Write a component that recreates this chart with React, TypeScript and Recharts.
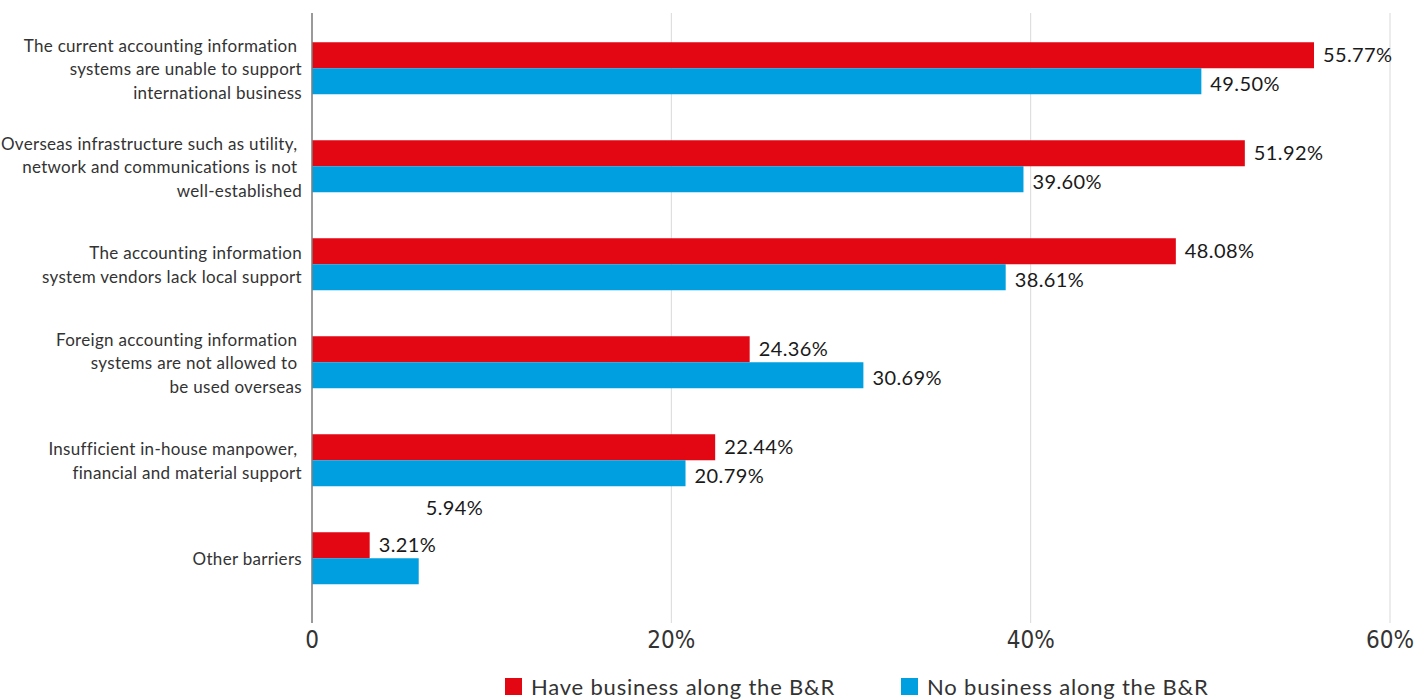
import React from 'react';
import { BarChart, Bar, XAxis, YAxis, CartesianGrid, Legend, LabelList } from 'recharts';

const categories = [
  'The current accounting information \nsystems are unable to support\ninternational business',
  'Overseas infrastructure such as utility, \nnetwork and communications is not \nwell-established',
  'The accounting information\nsystem vendors lack local support',
  'Foreign accounting information \nsystems are not allowed to \nbe used overseas',
  'Insufficient in-house manpower, \nfinancial and material support',
  'Other barriers',
];
const haveBusiness = [55.77, 51.92, 48.08, 24.36, 22.44, 3.21];
const noBusiness = [49.5, 39.6, 38.61, 30.69, 20.79, 5.94];
const xTicks = [0, 20, 40, 60];
const seriesNames = ['Have business along the B&R', 'No business along the B&R'];
const colors = ['#e30613', '#009fdf'];

const data = categories.map((c, i) => ({ name: c, have: haveBusiness[i], no: noBusiness[i] }));

const FONT = 'Lato, "Noto Sans", sans-serif';

const CategoryTick = (props: any) => {
  const { x, y, payload } = props;
  const lines = String(payload.value).split('\n');
  const lh = 23.5;
  const start = -((lines.length - 1) / 2) * lh;
  return (
    <text x={x} y={y} textAnchor="end" fontFamily={FONT} fontSize={17} letterSpacing={0.3} fill="#333" style={{ whiteSpace: 'pre' }}>
      {lines.map((l, i) => (
        <tspan key={i} x={x} y={y + start + i * lh} dy="0.42em">{l}</tspan>
      ))}
    </text>
  );
};

const makeLabel = (dyBase: number, liftIndex: number | null) => (props: any) => {
  const { x, y, width, height, value, index } = props;
  const lifted = liftIndex !== null && index === liftIndex;
  const lx = x + width + (lifted ? 7 : 9);
  const ly = y + height / 2 + dyBase + (lifted ? -66 : 0);
  return (
    <text x={lx} y={ly} dy="0.35em" fontFamily={FONT} fontSize={20} letterSpacing={0.4} fill="#1a1a1a" textAnchor="start">
      {Number(value).toFixed(2) + '%'}
    </text>
  );
};

const LegendContent = () => (
  <div style={{ display: 'flex', alignItems: 'center', fontFamily: FONT, fontSize: 22, letterSpacing: 0.8, color: '#333', paddingLeft: 505 }}>
    {seriesNames.map((n, i) => (
      <div key={n} style={{ display: 'flex', alignItems: 'center', marginRight: i === 0 ? 66 : 0 }}>
        <div style={{ width: 17, height: 17, background: colors[i], marginRight: 9 }} />
        <span>{n}</span>
      </div>
    ))}
  </div>
);

export default function App() {
  return (
    <div style={{ position: 'absolute', left: 0, top: 0, background: '#fff' }}>
      <BarChart
        width={1428}
        height={700}
        data={data}
        layout="vertical"
        margin={{ top: 13, right: 38, bottom: 47, left: 0 }}
        barCategoryGap="23.8%"
        barGap={0}
      >
        <CartesianGrid horizontal={false} vertical={true} stroke="#d9d9d9" />
        <XAxis
          type="number"
          domain={[0, 60]}
          ticks={xTicks}
          tickFormatter={(v: number) => (v === 0 ? '0' : v + '%')}
          axisLine={false}
          tickLine={false}
          height={30}
          tick={{ fontFamily: '"Liberation Sans Narrow", "DejaVu Sans Condensed", sans-serif', fontSize: 24, fill: '#333' }}
        />
        <YAxis
          type="category"
          dataKey="name"
          width={312}
          axisLine={{ stroke: '#7f7f7f', strokeWidth: 1.5 }}
          tickLine={false}
          tickSize={0}
          tickMargin={10}
          padding={{ top: 6, bottom: 16 }}
          tick={<CategoryTick />}
          interval={0}
        />
        <Legend verticalAlign="middle" align="center" layout="horizontal" wrapperStyle={{ top: 673, left: 0, width: 1428, height: 26 }} content={<LegendContent />} />
        <Bar dataKey="have" name={seriesNames[0]} fill={colors[0]} isAnimationActive={false}>
          <LabelList dataKey="have" content={makeLabel(0, null)} />
        </Bar>
        <Bar dataKey="no" name={seriesNames[1]} fill={colors[1]} isAnimationActive={false}>
          <LabelList dataKey="no" content={makeLabel(3, 5)} />
        </Bar>
      </BarChart>
    </div>
  );
}
